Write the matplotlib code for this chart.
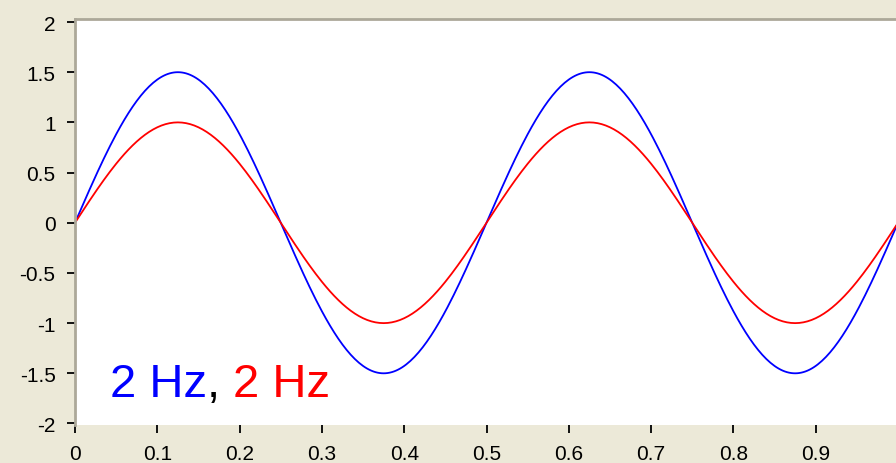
import matplotlib
matplotlib.use("Agg")
import matplotlib.pyplot as plt
from matplotlib.transforms import offset_copy
import numpy as np

# two sine signals, same frequency, different amplitude
freqs = [2, 2]            # Hz
amps = [1.5, 1.0]
colors = ["#0000ff", "#ff0000"]
x_ticks = [0, 0.1, 0.2, 0.3, 0.4, 0.5, 0.6, 0.7, 0.8, 0.9]
y_ticks = [-2, -1.5, -1, -0.5, 0, 0.5, 1, 1.5, 2]

plt.rcParams["axes.unicode_minus"] = False
plt.rcParams["font.family"] = ["Liberation Sans", "DejaVu Sans"]

bg = "#ece9d8"
fig = plt.figure(figsize=(8.96, 4.64), dpi=100, facecolor=bg)
W, H = 896, 464
ax = fig.add_axes([75 / W, (H - 426) / H, 823 / W, 406 / H])

t = np.linspace(0, 1, 401)
for f, a, c in zip(freqs, amps, colors):
    ax.plot(t, a * np.sin(2 * np.pi * f * t), color=c, lw=1.3)

ax.set_xlim(0, 1)
ax.set_ylim(-2.015, 2.03)
ax.set_xticks(x_ticks)
ax.set_yticks(y_ticks)
ax.set_xticklabels(["%g" % v for v in x_ticks])
ax.set_yticklabels(["%g" % v for v in y_ticks])
ax.tick_params(direction="out", length=6, width=1.3, labelsize=15,
               pad=8, colors="black")

for side in ["bottom", "right"]:
    ax.spines[side].set_visible(False)
for side in ["top", "left"]:
    ax.spines[side].set_color("#aca899")
    ax.spines[side].set_linewidth(2)

# coloured label "2 Hz, 2 Hz"
parts = [("%d Hz" % freqs[0], colors[0]), (", ", "black"),
         ("%d Hz" % freqs[1], colors[1])]
fig.canvas.draw()
renderer = fig.canvas.get_renderer()
trans = ax.transData
x0, y0 = 0.0425, -1.725
for s, c in parts:
    txt = ax.text(x0, y0, s, color=c, fontsize=34, va="baseline",
                  transform=trans)
    ext = txt.get_window_extent(renderer)
    trans = offset_copy(txt.get_transform(), fig=fig, x=ext.width, units="dots")

fig.savefig("out.png", dpi=100, facecolor=bg)
